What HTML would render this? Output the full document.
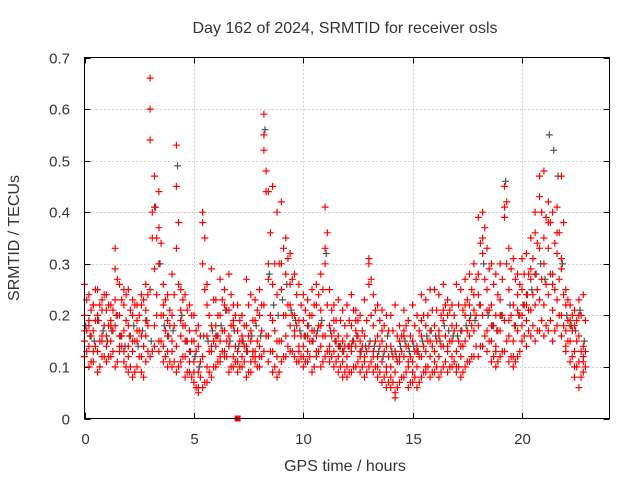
<!DOCTYPE html>
<html><head><meta charset="utf-8"><style>
body{margin:0;background:#fff;}
svg{display:block;font-family:"Liberation Sans",sans-serif;}
</style></head><body>
<svg id="chart" width="640" height="480" viewBox="0 0 640 480">
<rect width="640" height="480" fill="#fff"/>
<text x="345" y="33" font-size="16" text-anchor="middle" fill="#333">Day 162 of 2024, SRMTID for receiver osls</text>
<text x="345" y="471" font-size="16" text-anchor="middle" fill="#333">GPS time / hours</text>
<text transform="translate(19,238) rotate(-90)" font-size="16" text-anchor="middle" fill="#333">SRMTID / TECUs</text>
<g id="grid"></g>
<g id="ticks"></g>
<g id="marks"></g>
<rect x="84.5" y="57.5" width="525" height="361" fill="none" stroke="#000" stroke-width="1"/>
</svg>
<script>
const xTicks=[0,5,10,15,20];
const yTicks=[0,0.1,0.2,0.3,0.4,0.5,0.6,0.7];
const yTickLabels=["0","0.1","0.2","0.3","0.4","0.5","0.6","0.7"];
const tStep=0.2; // hours
// values in hundredths of TECU; series A-E start at 0 h, F-I start at 0.1 h
const seriesA=[12,10,11,9,12,11,12,10,13,11,9,8,10,9,11,12,14,13,11,10,10,9,11,8,9,7,5,6,7,8,10,11,12,9,10,9,10,8,9,11,10,13,11,9,8,11,12,13,12,11,10,11,9,12,10,12,11,10,9,8,8,9,10,9,8,10,9,8,7,6,6,5,7,8,6,7,6,8,9,8,9,8,10,9,10,9,8,10,11,12,12,14,13,11,10,12,13,11,10,12,15,14,16,15,17,16,17,15,18,16,14,11,8,6,9];
const seriesB=[15,14,17,13,16,16,15,18,14,17,14,13,15,12,16,25,18,15,14,16,15,14,16,12,13,11,9,12,10,13,14,15,13,16,12,13,12,14,11,13,14,22,16,13,12,15,16,18,17,14,14,13,15,16,14,16,14,13,12,13,12,13,14,12,11,14,13,12,11,10,10,9,11,12,10,11,10,12,13,12,13,12,14,13,15,13,12,15,16,17,18,20,17,15,14,17,19,16,15,17,20,19,21,22,23,22,24,21,23,20,17,15,13,11,12];
const seriesC=[20,18,22,19,21,21,19,23,20,22,18,20,17,22,19,54,29,30,20,19,20,45,21,18,17,15,14,38,16,18,18,20,17,21,19,17,16,18,15,19,20,55,30,26,24,25,28,22,20,19,19,18,20,22,21,30,18,17,16,15,16,18,17,15,16,30,18,16,15,14,14,13,15,16,14,15,14,16,18,17,18,17,19,20,18,18,17,20,22,24,28,32,25,22,20,23,39,25,22,24,25,24,27,28,33,30,33,28,32,29,22,19,18,16,14];
const seriesD=[26,24,22,25,23,24,22,33,26,25,25,23,22,24,26,66,41,44,26,24,28,53,25,24,22,20,18,40,26,29,23,27,25,28,22,22,20,27,24,23,25,59,44,45,40,42,35,32,28,26,24,23,25,26,28,41,25,22,23,21,22,24,21,20,23,31,24,22,21,20,20,22,18,21,19,22,20,24,23,25,25,24,26,23,22,26,25,27,28,30,39,40,33,30,28,30,45,33,31,28,31,32,35,40,47,48,42,40,41,47,25,22,21,23,24];
const seriesE=[17,19,13,20,15,14,18,29,16,13,12,15,19,16,21,60,47,37,22,13,13,33,19,15,11,9,6,30,22,14,16,12,22,14,18,11,15,13,17,12,12,52,27,19,15,30,20,26,16,13,12,16,17,13,18,33,13,19,14,11,10,14,19,13,12,26,12,10,17,9,8,4,12,17,11,9,13,19,10,15,11,16,21,14,12,10,14,22,19,21,24,35,21,18,13,20,41,19,12,21,18,22,29,36,43,35,38,26,36,31,13,18,10,20,11];
const seriesF=[13,11,14,10,12,12,13,11,14,10,10,9,12,8,13,13,20,15,12,11,11,10,12,9,8,6,8,7,9,10,11,13,12,10,11,10,11,9,12,10,12,16,13,10,9,12,14,13,11,12,11,12,10,13,11,13,12,11,10,9,9,10,11,10,9,11,10,9,8,7,7,6,8,9,7,8,7,9,10,9,10,9,11,10,11,10,9,11,12,14,14,16,15,12,11,13,15,12,11,13,16,17,18,17,19,18,19,17,20,18,15,12,10,8,10];
const seriesH=[17,16,19,15,18,18,17,20,16,19,16,15,17,14,18,35,24,20,17,18,18,26,18,15,15,13,11,25,13,15,16,17,15,18,14,15,14,16,13,15,17,44,20,17,15,20,22,20,18,16,16,15,17,18,16,22,16,15,14,14,14,15,16,14,13,20,15,14,13,12,12,11,13,14,12,13,12,14,15,14,15,14,16,15,17,15,14,17,18,20,22,27,21,18,17,20,30,20,18,20,22,21,24,25,27,26,28,25,27,24,19,17,15,13,13];
const seriesI=[23,21,25,22,24,22,21,27,23,24,21,22,20,23,24,40,35,34,23,21,24,38,23,21,20,17,16,35,20,23,20,23,21,24,20,19,18,22,19,21,22,48,36,30,30,33,31,27,24,22,21,20,22,24,25,36,21,19,19,18,19,21,19,17,19,27,21,19,18,17,17,16,16,18,16,18,17,20,20,21,21,20,22,21,20,22,21,23,25,27,34,37,29,26,24,27,42,29,27,26,28,28,31,34,40,39,38,34,36,38,23,20,19,20,19];
const seriesGray=[18,16,15,19,17,15,17,20,16,14,16,18,14,17,19,15,41,30,18,16,17,49,20,15,13,12,10,16,15,17,16,18,21,15,17,14,15,13,16,18,16,56,28,22,20,23,26,21,19,17,16,18,15,17,19,32,17,15,14,13,14,15,16,13,14,15,14,13,12,16,13,12,14,15,13,14,13,15,16,17,16,15,18,17,16,16,17,18,20,19,22,30,20,18,17,20,46,22,18,20,22,24,25,28,30,27,55,52,47,30,20,18,17,21,15];
const squarePoint=[7.0,0];

const NS="http://www.w3.org/2000/svg";
const X0=84.5,X1=609.5,Y0=418.5,Y1=57.5;
function xs(t){return X0+(t/24)*(X1-X0);}
function ys(v){return Y0-(v/0.7)*(Y0-Y1);}
const grid=document.getElementById('grid'),ticks=document.getElementById('ticks'),marks=document.getElementById('marks');
function mk(tag,attrs,parent){const e=document.createElementNS(NS,tag);for(const k in attrs)e.setAttribute(k,attrs[k]);parent.appendChild(e);return e;}
yTicks.forEach((v,i)=>{
  const y=Math.round(ys(v))+0.5;
  if(i>0&&i<yTicks.length-1){const g=mk('line',{x1:X0,x2:X1,y1:y,y2:y,stroke:'#a0a0a0','stroke-dasharray':'1,3'},grid);
  
  }
  mk('line',{x1:X0,x2:X0+6,y1:y,y2:y,stroke:'#000'},ticks);
  mk('line',{x1:X1,x2:X1-6,y1:y,y2:y,stroke:'#000'},ticks);
  const t=mk('text',{x:70,y:y+5,'font-size':15,'text-anchor':'end',fill:'#333'},ticks);t.textContent=yTickLabels[i];
  
  
});
xTicks.forEach((v,i)=>{
  const x=Math.round(xs(v))+0.5;
  if(i>0){const g=mk('line',{x1:x,x2:x,y1:Y0,y2:Y1,stroke:'#a0a0a0','stroke-dasharray':'1,3'},grid);
  
  }
  mk('line',{x1:x,x2:x,y1:Y0,y2:Y0-6,stroke:'#000'},ticks);
  mk('line',{x1:x,x2:x,y1:Y1,y2:Y1+6,stroke:'#000'},ticks);
  const t=mk('text',{x:x,y:444,'font-size':15,'text-anchor':'middle',fill:'#333'},ticks);t.textContent=String(v);
  
  
});
function drawSeries(arr,start,color,name){
  let d='';
  arr.forEach((v,i)=>{const x=xs(start+i*tStep),y=ys(v/100);
    d+=`M${(x-3.5).toFixed(1)} ${y.toFixed(1)}h7M${x.toFixed(1)} ${(y-3.5).toFixed(1)}v7`;});
  const p=mk('path',{d:d,stroke:color,'stroke-width':1.2,fill:'none'},marks);
  
  
}
drawSeries(seriesGray,0.05,'#505050','series-gray-points');
drawSeries(seriesA,0,'#ff0000','series-a-points');
drawSeries(seriesB,0,'#ff0000','series-b-points');
drawSeries(seriesC,0,'#ff0000','series-c-points');
drawSeries(seriesD,0,'#ff0000','series-d-points');
drawSeries(seriesE,0,'#ff0000','series-e-points');
drawSeries(seriesF,0.1,'#ff0000','series-f-points');
drawSeries(seriesH,0.1,'#ff0000','series-h-points');
drawSeries(seriesI,0.1,'#ff0000','series-i-points');
const sq=mk('rect',{x:xs(squarePoint[0])-3,y:ys(squarePoint[1])-3,width:6,height:6,fill:'#ff0000'},marks);


</script>
</body></html>
